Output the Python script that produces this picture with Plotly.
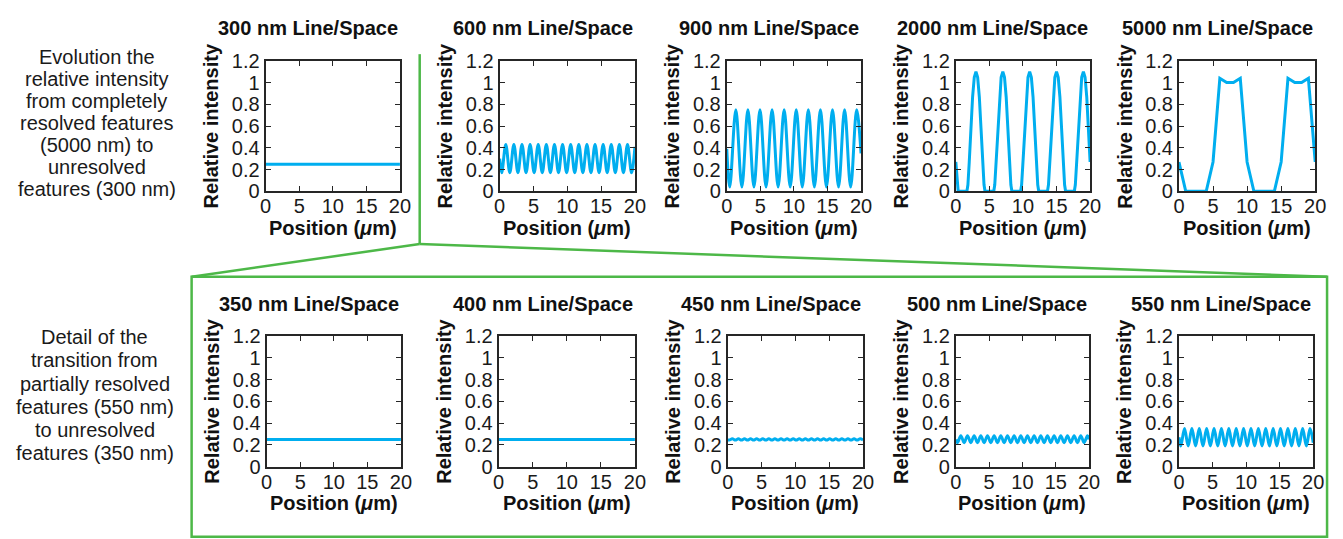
import plotly.graph_objects as go

# ---------------- data ----------------
x_ticks = [0, 5, 10, 15, 20]
y_ticks = [0, 0.2, 0.4, 0.6, 0.8, 1.0, 1.2]

titles_top = ["300 nm Line/Space", "600 nm Line/Space", "900 nm Line/Space",
              "2000 nm Line/Space", "5000 nm Line/Space"]
titles_bottom = ["350 nm Line/Space", "400 nm Line/Space", "450 nm Line/Space",
                 "500 nm Line/Space", "550 nm Line/Space"]

x300 = [0, 20]
y300 = [0.25, 0.25]

x600 = [0, 0.3, 0.9, 1.5, 2.1, 2.7, 3.3, 3.9, 4.5, 5.1, 5.7, 6.3, 6.9, 7.5, 8.1, 8.7,
        9.3, 9.9, 10.5, 11.1, 11.7, 12.3, 12.9, 13.5, 14.1, 14.7, 15.3, 15.9, 16.5,
        17.1, 17.7, 18.3, 18.9, 19.5, 20]
y600 = [0.30, 0.17, 0.43, 0.17, 0.43, 0.17, 0.43, 0.17, 0.43, 0.17, 0.43, 0.17, 0.43,
        0.17, 0.43, 0.17, 0.43, 0.17, 0.43, 0.17, 0.43, 0.17, 0.43, 0.17, 0.43, 0.17,
        0.43, 0.17, 0.43, 0.17, 0.43, 0.17, 0.43, 0.17, 0.41]

x900 = [0, 0.45, 1.35, 2.25, 3.15, 4.05, 4.95, 5.85, 6.75, 7.65, 8.55, 9.45, 10.35,
        11.25, 12.15, 13.05, 13.95, 14.85, 15.75, 16.65, 17.55, 18.45, 19.35, 20]
y900 = [0.39, 0.04, 0.75, 0.04, 0.75, 0.04, 0.75, 0.04, 0.75, 0.04, 0.75, 0.04, 0.75,
        0.04, 0.75, 0.04, 0.75, 0.04, 0.75, 0.04, 0.75, 0.04, 0.75, 0.35]

x2000 = [0, 0.2, 0.35,
         1.65, 1.8, 2.0, 2.25, 2.5, 2.75, 3.0, 3.25, 3.5, 3.75, 4.0, 4.2, 4.35,
         5.65, 5.8, 6.0, 6.25, 6.5, 6.75, 7.0, 7.25, 7.5, 7.75, 8.0, 8.2, 8.35,
         9.65, 9.8, 10.0, 10.25, 10.5, 10.75, 11.0, 11.25, 11.5, 11.75, 12.0, 12.2, 12.35,
         13.65, 13.8, 14.0, 14.25, 14.5, 14.75, 15.0, 15.25, 15.5, 15.75, 16.0, 16.2, 16.35,
         17.65, 17.8, 18.0, 18.25, 18.5, 18.75, 19.0, 19.25, 19.5, 19.75, 20.0]
y2000 = [0.27, 0.06, 0.0,
         0.0, 0.06, 0.27, 0.58, 0.87, 1.05, 1.10, 1.05, 0.87, 0.58, 0.27, 0.06, 0.0,
         0.0, 0.06, 0.27, 0.58, 0.87, 1.05, 1.10, 1.05, 0.87, 0.58, 0.27, 0.06, 0.0,
         0.0, 0.06, 0.27, 0.58, 0.87, 1.05, 1.10, 1.05, 0.87, 0.58, 0.27, 0.06, 0.0,
         0.0, 0.06, 0.27, 0.58, 0.87, 1.05, 1.10, 1.05, 0.87, 0.58, 0.27, 0.06, 0.0,
         0.0, 0.06, 0.27, 0.58, 0.87, 1.05, 1.10, 1.05, 0.87, 0.58, 0.27]

x5000 = [0, 1, 2, 3, 4, 5, 6, 7, 8, 9, 10, 11, 12, 13, 14, 15, 16, 17, 18, 19, 20]
y5000 = [0.27, 0, 0, 0, 0, 0.27, 1.04, 1.0, 1.0, 1.04, 0.27, 0, 0, 0, 0, 0.27,
         1.04, 1.0, 1.0, 1.04, 0.27]

x350 = [0, 20]
y350 = [0.25, 0.25]

x400 = [0, 20]
y400 = [0.25, 0.25]

x450 = [0, 0.225, 0.675, 1.125, 1.575, 2.025, 2.475, 2.925, 3.375, 3.825, 4.275, 4.725,
        5.175, 5.625, 6.075, 6.525, 6.975, 7.425, 7.875, 8.325, 8.775, 9.225, 9.675,
        10.125, 10.575, 11.025, 11.475, 11.925, 12.375, 12.825, 13.275, 13.725, 14.175,
        14.625, 15.075, 15.525, 15.975, 16.425, 16.875, 17.325, 17.775, 18.225, 18.675,
        19.125, 19.575, 20]
y450 = [0.25, 0.244, 0.256, 0.244, 0.256, 0.244, 0.256, 0.244, 0.256, 0.244, 0.256,
        0.244, 0.256, 0.244, 0.256, 0.244, 0.256, 0.244, 0.256, 0.244, 0.256, 0.244,
        0.256, 0.244, 0.256, 0.244, 0.256, 0.244, 0.256, 0.244, 0.256, 0.244, 0.256,
        0.244, 0.256, 0.244, 0.256, 0.244, 0.256, 0.244, 0.256, 0.244, 0.256, 0.244,
        0.256, 0.245]

x500 = [0, 0.25, 0.75, 1.25, 1.75, 2.25, 2.75, 3.25, 3.75, 4.25, 4.75, 5.25, 5.75, 6.25,
        6.75, 7.25, 7.75, 8.25, 8.75, 9.25, 9.75, 10.25, 10.75, 11.25, 11.75, 12.25,
        12.75, 13.25, 13.75, 14.25, 14.75, 15.25, 15.75, 16.25, 16.75, 17.25, 17.75,
        18.25, 18.75, 19.25, 19.75, 20]
y500 = [0.25, 0.22, 0.285, 0.22, 0.285, 0.22, 0.285, 0.22, 0.285, 0.22, 0.285, 0.22,
        0.285, 0.22, 0.285, 0.22, 0.285, 0.22, 0.285, 0.22, 0.285, 0.22, 0.285, 0.22,
        0.285, 0.22, 0.285, 0.22, 0.285, 0.22, 0.285, 0.22, 0.285, 0.22, 0.285, 0.22,
        0.285, 0.22, 0.285, 0.22, 0.285, 0.25]

x550 = [0, 0.275, 0.825, 1.375, 1.925, 2.475, 3.025, 3.575, 4.125, 4.675, 5.225, 5.775,
        6.325, 6.875, 7.425, 7.975, 8.525, 9.075, 9.625, 10.175, 10.725, 11.275, 11.825,
        12.375, 12.925, 13.475, 14.025, 14.575, 15.125, 15.675, 16.225, 16.775, 17.325,
        17.875, 18.425, 18.975, 19.525, 20]
y550 = [0.27, 0.19, 0.35, 0.19, 0.35, 0.19, 0.35, 0.19, 0.35, 0.19, 0.35, 0.19, 0.35,
        0.19, 0.35, 0.19, 0.35, 0.19, 0.35, 0.19, 0.35, 0.19, 0.35, 0.19, 0.35, 0.19,
        0.35, 0.19, 0.35, 0.19, 0.35, 0.19, 0.35, 0.19, 0.35, 0.19, 0.35, 0.22]

left_text_top = ["Evolution the", "relative intensity", "from completely",
                 "resolved features", "(5000 nm) to", "unresolved", "features (300 nm)"]
left_text_bottom = ["Detail of the", "transition from", "partially resolved",
                    "features (550 nm)", "to unresolved", "features (350 nm)"]

# ---------------- layout geometry (pixels) ----------------
W, H = 1343, 539
BLUE = "#00AEEF"
GREEN = "#4DB848"
AX = "#262626"
FONT = "Liberation Sans, Arial, sans-serif"

top_boxes = [(263, 399), (500, 637), (730, 866), (962, 1098), (1188, 1326)]
bot_boxes = [(264, 400), (499, 637), (731, 868), (962, 1097), (1188, 1324)]
top_y = (52, 188)
bot_y = (339, 475)

series = [(x300, y300, "linear"), (x600, y600, "spline"), (x900, y900, "spline"),
          (x2000, y2000, "linear"), (x5000, y5000, "linear"),
          (x350, y350, "linear"), (x400, y400, "linear"), (x450, y450, "spline"),
          (x500, y500, "spline"), (x550, y550, "spline")]
titles = titles_top + titles_bottom
boxes = [(b, top_y) for b in top_boxes] + [(b, bot_y) for b in bot_boxes]


def px(x):
    return x / W


def py(y):
    return 1 - y / H


fig = go.Figure()
layout = dict(width=W, height=H, margin=dict(l=0, r=0, t=0, b=0),
              paper_bgcolor="white", plot_bgcolor="white", showlegend=False,
              font=dict(family=FONT, color="#1a1a1a"))
annotations = []

for i, ((xs, ys, shape), title, ((l, r), (t, b))) in enumerate(zip(series, titles, boxes)):
    k = i + 1
    sx = "" if k == 1 else str(k)
    fig.add_trace(go.Scatter(x=xs, y=ys, mode="lines",
                             line=dict(color=BLUE, width=3, shape=shape),
                             xaxis="x" + sx, yaxis="y" + sx, hoverinfo="skip"))
    common = dict(showline=True, linecolor=AX, linewidth=2, mirror="ticks",
                  ticks="inside", ticklen=5, tickwidth=1.3, tickcolor=AX,
                  showgrid=False, zeroline=False, fixedrange=True,
                  tickfont=dict(family=FONT, size=20, color="#1a1a1a"))
    layout["xaxis" + sx] = dict(domain=[px(l), px(r)], anchor="y" + sx, range=[0, 20],
                                tickvals=x_ticks, ticktext=[str(v) for v in x_ticks],
                                ticklabelstandoff=-4, **common)
    layout["yaxis" + sx] = dict(domain=[py(b), py(t)], anchor="x" + sx, range=[0, 1.2],
                                tickvals=y_ticks,
                                ticktext=["0", "0.2", "0.4", "0.6", "0.8", "1", "1.2"],
                                **common)
    # panel title (right-aligned with box)
    annotations.append(dict(text="<b>" + title + "</b>", xref="paper", yref="paper",
                            x=px(r), y=py(t - 34), xanchor="right", yanchor="middle",
                            showarrow=False, font=dict(size=20, family=FONT, color="#111")))
    # y axis title
    annotations.append(dict(text="<b>Relative intensity</b>", xref="paper", yref="paper",
                            x=px(l - 55), y=py((t + b) / 2), xanchor="center",
                            yanchor="middle", textangle=-90, showarrow=False,
                            font=dict(size=20, family=FONT, color="#111")))
    # x axis title
    annotations.append(dict(text="<b>Position (<i>μ</i>m)</b>", xref="paper", yref="paper",
                            x=px((l + r) / 2), y=py(b + 38), xanchor="center",
                            yanchor="middle", showarrow=False,
                            font=dict(size=20, family=FONT, color="#111")))

for j, line in enumerate(left_text_top):
    annotations.append(dict(text=line, xref="paper", yref="paper", x=px(92),
                            y=py(48 + 23 * j), xanchor="center", yanchor="middle",
                            showarrow=False, font=dict(size=20, family=FONT, color="#1a1a1a")))
for j, line in enumerate(left_text_bottom):
    annotations.append(dict(text=line, xref="paper", yref="paper", x=px(90),
                            y=py(340 + 24.2 * j), xanchor="center", yanchor="middle",
                            showarrow=False, font=dict(size=20, family=FONT, color="#1a1a1a")))

gl = dict(color=GREEN, width=2.5)
shapes = [
    dict(type="line", xref="paper", yref="paper", x0=px(419), y0=py(45), x1=px(419), y1=py(243), line=gl),
    dict(type="line", xref="paper", yref="paper", x0=px(419), y0=py(243), x1=px(188), y1=py(277), line=gl),
    dict(type="line", xref="paper", yref="paper", x0=px(419), y0=py(243), x1=px(1338), y1=py(277), line=gl),
    dict(type="rect", xref="paper", yref="paper", x0=px(188), y0=py(277), x1=px(1338), y1=py(548), line=gl),
]
layout["annotations"] = annotations
layout["shapes"] = shapes
fig.update_layout(**layout)
fig.write_html("out.html",
               config={"displayModeBar": False},
               post_script="document.body.style.margin='0';"
                           "document.body.style.overflow='hidden';"
                           "document.documentElement.style.overflow='hidden';")
